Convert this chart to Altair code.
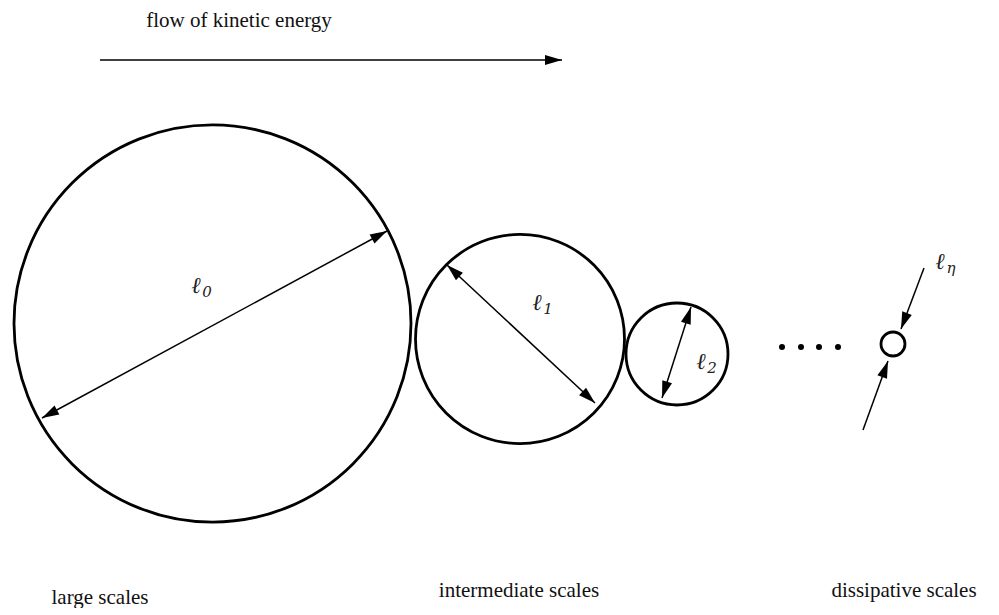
import altair as alt
import pandas as pd
import numpy as np

# --- circles (centre x, centre y, diameter) in picture pixels
circ_x = [212.5, 520, 677, 893]
circ_y = [323.5, 339, 354, 344]
circ_d = [397, 209, 102, 24]
circ_w = [3, 3, 3, 3]

# --- dots between small circle and dissipative circle
dot_x = [782, 801, 819, 838]
dot_y = [347, 347, 347, 347]

# --- arrow segments: start, end, heads ("end" or "both")
arr_x1 = [100, 42, 447, 691, 924, 863]
arr_y1 = [60, 418, 265, 307, 268, 430]
arr_x2 = [562, 387, 595, 662, 901, 888]
arr_y2 = [60, 231, 403, 398, 329, 361]
arr_heads = ["end", "both", "both", "both", "end", "end"]

# --- plain texts
txt = ["flow of kinetic energy", "large scales", "intermediate scales", "dissipative scales"]
txt_x = [239, 100, 519, 904]
txt_y = [21, 598, 591, 591]

# --- length-scale labels
lab_main = ["ℓ", "ℓ", "ℓ", "ℓ"]
lab_sub = ["0", "1", "2", "η"]
lab_x = [196, 537, 701, 940]
lab_y = [286, 303, 362, 262]

X0, X1, Y0, Y1 = 8, 988, 8, 604
W, H = X1 - X0, Y1 - Y0
xs = alt.Scale(domain=[X0, X1], nice=False, zero=False)
ys = alt.Scale(domain=[Y0, Y1], nice=False, zero=False, reverse=True)

circles = pd.DataFrame({"x": circ_x, "y": circ_y, "s": [d * d for d in circ_d], "w": circ_w})
dots = pd.DataFrame({"x": dot_x, "y": dot_y})
segs = pd.DataFrame({"x": arr_x1, "y": arr_y1, "x2": arr_x2, "y2": arr_y2})

heads = []
for a, b, c, d, h in zip(arr_x1, arr_y1, arr_x2, arr_y2, arr_heads):
    ang = np.degrees(np.arctan2(d - b, c - a)) % 360
    heads.append({"x": c, "y": d, "ang": ang})
    if h == "both":
        heads.append({"x": a, "y": b, "ang": (ang + 180) % 360})
heads = pd.DataFrame(heads)

texts = pd.DataFrame({"t": txt, "x": txt_x, "y": txt_y})
labs = pd.DataFrame({"m": lab_main, "s": lab_sub, "x": lab_x, "y": lab_y})
labs["xs"] = labs["x"] + 11
labs["ys"] = labs["y"] + 6

X = lambda f="x": alt.X(f"{f}:Q", scale=xs, axis=None)
Y = lambda f="y": alt.Y(f"{f}:Q", scale=ys, axis=None)

c_layer = alt.Chart(circles).mark_point(shape="circle", filled=False, color="black", strokeWidth=2.8, opacity=1).encode(
    x=X(), y=Y(), size=alt.Size("s:Q", scale=None, legend=None))

d_layer = alt.Chart(dots).mark_point(shape="circle", filled=True, color="black", size=36, opacity=1).encode(x=X(), y=Y())

s_layer = alt.Chart(segs).mark_rule(color="black", strokeWidth=1.5).encode(
    x=X(), y=Y(), x2="x2:Q", y2="y2:Q")

h_layer = alt.Chart(heads).mark_point(shape="M0,0L-1,-0.3L-1,0.3Z", filled=True, color="black", size=1156, opacity=1, strokeWidth=0).encode(
    x=X(), y=Y(), angle=alt.Angle("ang:Q", scale=None))

t_layer = alt.Chart(texts).mark_text(font="Liberation Serif", fontSize=21, color="#111", align="center", baseline="middle").encode(
    x=X(), y=Y(), text="t:N")

l_layer = alt.Chart(labs).mark_text(font="DejaVu Serif", fontSize=23, fontStyle="italic", color="#222222", align="center", baseline="middle").encode(
    x=X(), y=Y(), text="m:N")
ls_layer = alt.Chart(labs).mark_text(font="DejaVu Serif", fontSize=15, fontStyle="italic", color="#222222", align="center", baseline="middle").encode(
    x=X("xs"), y=Y("ys"), text="s:N")

chart = alt.layer(c_layer, d_layer, s_layer, h_layer, t_layer, l_layer, ls_layer).properties(
    width=W, height=H, padding=0, background="white"
).configure_view(stroke=None)

chart.save("out.html", embed_options={"renderer": "svg", "actions": False})
